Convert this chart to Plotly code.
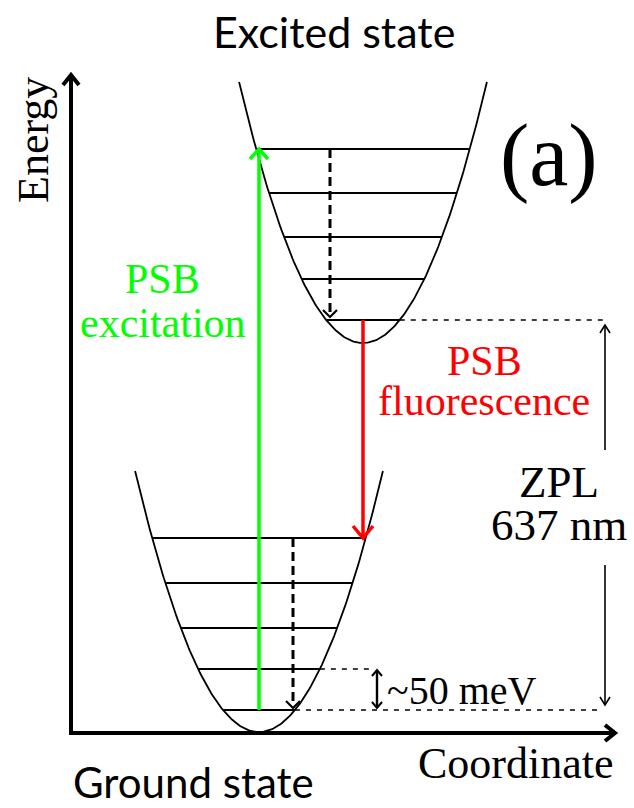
import numpy as np
import plotly.graph_objects as go

# ---- diagram values (axis units: origin at the corner of the Energy/Coordinate axes)
K_CURV = 0.017                 # curvature of both harmonic wells
GND_VERTEX = (188, 1)          # ground-state well minimum (coordinate, energy)
EXC_VERTEX = (292, 390)        # excited-state well minimum
GND_TOP = 262                  # energy where ground well is cut off
EXC_TOP = 651                  # energy where excited well is cut off
GND_LEVELS = [23, 64, 105, 150, 195]     # vibrational levels, ground state
EXC_LEVELS = [413, 454, 496, 540, 584]   # vibrational levels, excited state

EXC_ARROW_Q = 188      # green PSB excitation arrow position
FLUO_ARROW_Q = 292     # red PSB fluorescence arrow position
EXC_RELAX_Q = 259      # dashed relaxation arrow, excited well
GND_RELAX_Q = 222      # dashed relaxation arrow, ground well
ZPL_Q = 534            # ZPL double arrow position
ZPL_GAP = (168, 283)   # gap in the ZPL arrow for its label
MEV_Q = 306            # ~50 meV arrow position
DOT_END_Q = 532        # end of long dotted guides
MEV_DOT_END_Q = 301    # end of short dotted guide
AXIS_Y_TOP = 658
AXIS_X_END = 544

GREEN = "#00ff00"
RED = "#ff0000"
BLACK = "#000000"
SERIF = "Liberation Serif"
SANS = "Lato"

fig = go.Figure()


def line(xs, ys, color=BLACK, width=2, dash="solid"):
    fig.add_trace(go.Scatter(x=xs, y=ys, mode="lines",
                             line=dict(color=color, width=width, dash=dash),
                             hoverinfo="skip", showlegend=False))


def head(q, e, direction, hw, hl, color=BLACK, width=2):
    if direction == "up":
        xs, ys = [q - hw, q, q + hw], [e - hl, e, e - hl]
    elif direction == "down":
        xs, ys = [q - hw, q, q + hw], [e + hl, e, e + hl]
    else:  # right
        xs, ys = [q - hl, q, q - hl], [e + hw, e, e - hw]
    line(xs, ys, color, width)


def half_width(e, vertex):
    return np.sqrt(max(e - vertex[1], 0) / K_CURV)


# ---- axes
line([0, 0], [-1, AXIS_Y_TOP - 1], BLACK, 4)
head(0, AXIS_Y_TOP, "up", 8, 10, BLACK, 4)
line([-2, AXIS_X_END - 1], [0, 0], BLACK, 4)
head(AXIS_X_END, 0, "right", 8, 10, BLACK, 4)

# ---- wells
for vertex, top in [(GND_VERTEX, GND_TOP), (EXC_VERTEX, EXC_TOP)]:
    hwid = half_width(top, vertex)
    qs = np.linspace(vertex[0] - hwid, vertex[0] + hwid, 200)
    es = vertex[1] + K_CURV * (qs - vertex[0]) ** 2
    line(qs, es, BLACK, 1.8)

# ---- vibrational levels
for levels, vertex in [(GND_LEVELS, GND_VERTEX), (EXC_LEVELS, EXC_VERTEX)]:
    for e in levels:
        w = half_width(e, vertex)
        line([vertex[0] - w, vertex[0] + w], [e, e], BLACK, 2.2)

# ---- dotted guides
w0 = half_width(EXC_LEVELS[0], EXC_VERTEX)
line([EXC_VERTEX[0] + w0, DOT_END_Q], [EXC_LEVELS[0]] * 2, BLACK, 1.6, "5px,6px")
w0 = half_width(GND_LEVELS[0], GND_VERTEX)
line([GND_VERTEX[0] + w0, DOT_END_Q], [GND_LEVELS[0]] * 2, BLACK, 1.6, "5px,6px")
w1 = half_width(GND_LEVELS[1], GND_VERTEX)
line([GND_VERTEX[0] + w1, MEV_DOT_END_Q], [GND_LEVELS[1]] * 2, BLACK, 1.6, "5px,6px")

# ---- green excitation arrow
line([EXC_ARROW_Q, EXC_ARROW_Q], [GND_LEVELS[0], EXC_LEVELS[-1] - 1], GREEN, 3.5)
head(EXC_ARROW_Q, EXC_LEVELS[-1], "up", 9, 10, GREEN, 3.5)

# ---- red fluorescence arrow
line([FLUO_ARROW_Q, FLUO_ARROW_Q], [EXC_LEVELS[0], GND_LEVELS[-1] + 1], RED, 3.5)
head(FLUO_ARROW_Q, GND_LEVELS[-1], "down", 10, 12, RED, 3.5)

# ---- dashed relaxation arrows
line([EXC_RELAX_Q, EXC_RELAX_Q], [EXC_LEVELS[-1], EXC_LEVELS[0] + 5], BLACK, 3, "9px,5px")
head(EXC_RELAX_Q, EXC_LEVELS[0] + 3, "down", 7, 7, BLACK, 2.2)
line([GND_RELAX_Q, GND_RELAX_Q], [GND_LEVELS[-1], GND_LEVELS[0] + 4], BLACK, 3, "9px,5px")
head(GND_RELAX_Q, GND_LEVELS[0] + 2, "down", 7, 7, BLACK, 2.2)

# ---- ZPL arrow
line([ZPL_Q, ZPL_Q], [ZPL_GAP[1], EXC_LEVELS[0] - 5], BLACK, 1.6)
head(ZPL_Q, EXC_LEVELS[0] - 5, "up", 5, 8, BLACK, 1.6)
line([ZPL_Q, ZPL_Q], [ZPL_GAP[0], GND_LEVELS[0] + 5], BLACK, 1.6)
head(ZPL_Q, GND_LEVELS[0] + 5, "down", 5, 8, BLACK, 1.6)

# ---- ~50 meV arrow
line([MEV_Q, MEV_Q], [GND_LEVELS[0] + 2, GND_LEVELS[1] - 1], BLACK, 2.4)
head(MEV_Q, GND_LEVELS[1] - 1, "up", 5, 6, BLACK, 2)
head(MEV_Q, GND_LEVELS[0] + 2, "down", 5, 6, BLACK, 2)

# ---- labels (positions in axis units)
labels = [
    ("Excited state", 263, 702, SANS, 43, BLACK, 0),
    ("Ground state", 122, -49, SANS, 42, BLACK, 0),
    ("Energy", -38, 593, SERIF, 44, BLACK, -90),
    ("Coordinate", 445, -30, SERIF, 44, BLACK, 0),
    ("(a)", 478, 578, SERIF, 88, BLACK, 0),
    ("PSB", 91, 454, SERIF, 42, GREEN, 0),
    ("excitation", 92, 410, SERIF, 42, GREEN, 0),
    ("PSB", 413, 372, SERIF, 42, RED, 0),
    ("fluorescence", 413, 332, SERIF, 42, RED, 0),
    ("ZPL", 488, 251, SERIF, 45, BLACK, 0),
    ("637 nm", 488, 208, SERIF, 45, BLACK, 0),
    ("~50 meV", 391, 43, SERIF, 40, BLACK, 0),
]
for text, q, e, fam, size, col, ang in labels:
    fig.add_annotation(x=q, y=e, xref="x", yref="y", text=text, showarrow=False,
                       xanchor="center", yanchor="middle", textangle=ang,
                       font=dict(family=fam, size=size, color=col))

fig.update_layout(
    width=634, height=808,
    margin=dict(l=0, r=0, t=0, b=0),
    paper_bgcolor="white", plot_bgcolor="white",
    xaxis=dict(range=[-71, 563], visible=False, fixedrange=True),
    yaxis=dict(range=[-75, 733], visible=False, fixedrange=True),
    showlegend=False,
)

fig.write_html("out.html")
